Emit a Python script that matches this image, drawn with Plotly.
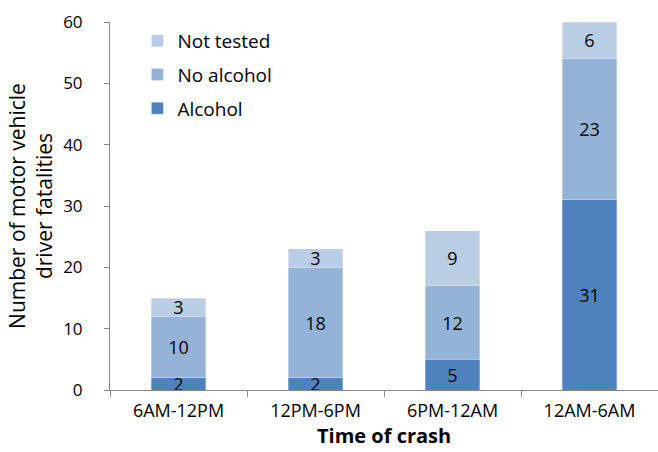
import plotly.graph_objects as go

categories = ["6AM-12PM", "12PM-6PM", "6PM-12AM", "12AM-6AM"]
alcohol = [2, 2, 5, 31]
no_alcohol = [10, 18, 12, 23]
not_tested = [3, 3, 9, 6]

# (name, values, colour, legend position)
series = [
    ("Alcohol", alcohol, "#4F81BD", 3),
    ("No alcohol", no_alcohol, "#95B3D7", 2),
    ("Not tested", not_tested, "#B9CDE5", 1),
]

FONT = "Open Sans, Liberation Sans, sans-serif"

fig = go.Figure()
for name, vals, color, rank in series:
    fig.add_trace(go.Bar(
        x=categories, y=vals, name=name, legendgroup=name, legendrank=rank,
        marker=dict(color=color, line=dict(color="rgba(255,255,255,0.6)", width=0.5)),
        text=vals, textposition="inside", insidetextanchor="middle", textangle=0,
        textfont=dict(color="#000000", size=18, family=FONT),
        cliponaxis=False,
    ))

fig.update_layout(
    width=658, height=452,
    margin=dict(l=110, r=0, t=22, b=62),
    barmode="stack", bargap=0.6,
    plot_bgcolor="white", paper_bgcolor="white",
    font=dict(family=FONT, size=17, color="#000000"),
    uniformtext=dict(minsize=18, mode="show"),
    legend=dict(
        x=0.05, y=1.0, xanchor="left", yanchor="top",
        traceorder="grouped", tracegroupgap=6, itemwidth=30,
        font=dict(size=19, family=FONT), bgcolor="rgba(0,0,0,0)",
    ),
    xaxis=dict(
        range=[-0.5, 3.5], showline=True, linecolor="#868686", linewidth=1,
        ticks="outside", tickson="boundaries", ticklen=6, tickcolor="#868686",
        tickfont=dict(size=18), showgrid=False, ticklabelstandoff=4,
        automargin=False,
    ),
    yaxis=dict(
        range=[0, 60], dtick=10, showline=True, linecolor="#868686", linewidth=1,
        ticks="outside", ticklen=5, tickcolor="#868686", showgrid=False,
        zeroline=False, tickfont=dict(size=17), ticklabelstandoff=18,
        automargin=False,
        title=dict(text="Number of motor vehicle<br>driver fatalities",
                   font=dict(size=21), standoff=4),
    ),
    annotations=[dict(
        text="<b>Time of crash</b>", xref="paper", yref="paper",
        x=0.5, y=-0.163, xanchor="center", yanchor="bottom",
        showarrow=False, borderpad=0,
        font=dict(size=20, family=FONT, color="#000000"),
    )],
)

fig.write_html("out.html")
